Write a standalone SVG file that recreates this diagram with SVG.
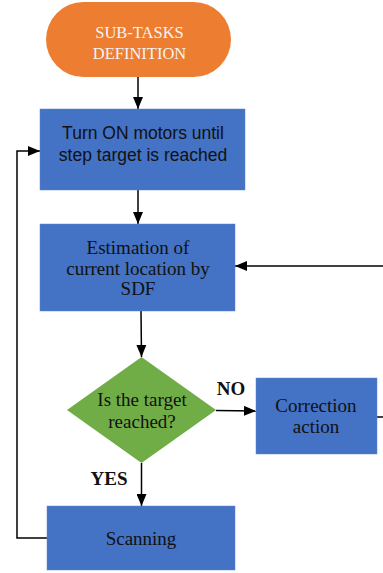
<svg xmlns="http://www.w3.org/2000/svg" width="383" height="573" viewBox="0 0 383 573">
<defs>
<marker id="ah" viewBox="0 0 12 10" refX="12" refY="5" markerWidth="12" markerHeight="10" markerUnits="userSpaceOnUse" orient="auto">
<path d="M0,0 L12,5 L0,10 Z" fill="#000"/>
</marker>
</defs>
<style>
.box{fill:#4472C4;stroke:#5b86cf;stroke-width:0.5}
.dia{fill:#70AD47}
.ser{font-family:"Liberation Serif","Times New Roman",serif;font-size:19px;fill:#111;text-anchor:middle}
.san{font-family:"Liberation Sans",Arial,sans-serif;font-size:17.5px;fill:#111;text-anchor:middle}
.lbl{font-family:"Liberation Serif","Times New Roman",serif;font-size:19px;font-weight:bold;fill:#111;text-anchor:middle}
.wht{font-family:"Liberation Serif","Times New Roman",serif;font-size:16.5px;fill:#f4f4f4;text-anchor:middle}
.c{fill:none;stroke:#000;stroke-width:1.5}
</style>
<g id="connectors">
<line class="c" x1="138" y1="77" x2="138" y2="109" marker-end="url(#ah)"/>
<line class="c" x1="138" y1="190" x2="138" y2="224" marker-end="url(#ah)"/>
<line class="c" x1="383" y1="266" x2="235" y2="266" marker-end="url(#ah)"/>
<line class="c" x1="141" y1="311" x2="141.5" y2="357" marker-end="url(#ah)"/>
<line class="c" x1="216" y1="410.5" x2="256" y2="411" marker-end="url(#ah)"/>
<line class="c" x1="377" y1="417" x2="383" y2="417"/>
<line class="c" x1="141.5" y1="463" x2="141.5" y2="506" marker-end="url(#ah)"/>
<polyline class="c" points="47,538 17,538 17,151 40,151" marker-end="url(#ah)"/>
<text class="lbl" x="231" y="395">NO</text>
<text class="lbl" x="109" y="485">YES</text>
</g>
<g id="start">
<rect x="46" y="2" width="185" height="75" rx="37.5" fill="#ED7D31"/>
<text class="wht" x="139.5" y="38">SUB-TASKS</text>
<text class="wht" x="139.5" y="59">DEFINITION</text>
</g>
<g id="motors">
<rect class="box" x="40" y="109" width="205" height="81"/>
<text class="san" x="143" y="139">Turn ON motors until</text>
<text class="san" x="143" y="161">step target is reached</text>
</g>
<g id="estimation">
<rect class="box" x="40" y="224" width="195" height="87"/>
<text class="ser" x="138" y="254">Estimation of</text>
<text class="ser" x="138" y="275">current location by</text>
<text class="ser" x="138" y="295">SDF</text>
</g>
<g id="decision">
<polygon class="dia" points="141.5,357 216,410 141.5,463 67,410"/>
<text class="ser" x="142" y="406">Is the target</text>
<text class="ser" x="142" y="428">reached?</text>
</g>
<g id="correction">
<rect class="box" x="256" y="378" width="121" height="76"/>
<text class="ser" x="316" y="412">Correction</text>
<text class="ser" x="316" y="433">action</text>
</g>
<g id="scanning">
<rect class="box" x="47" y="506" width="188" height="64"/>
<text class="ser" x="141" y="545">Scanning</text>
</g>
</svg>
